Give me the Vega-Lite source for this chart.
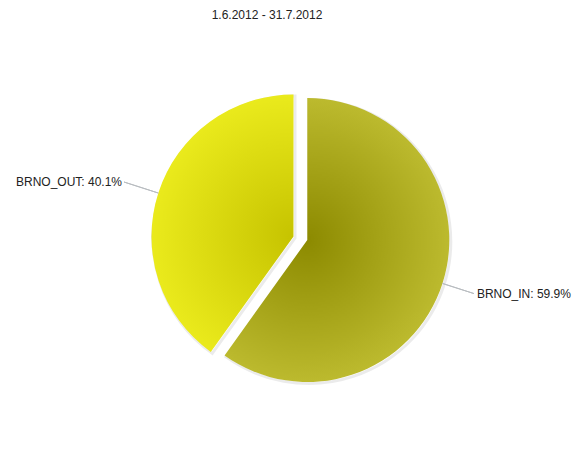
{
  "$schema": "https://vega.github.io/schema/vega-lite/v6.json",
  "autosize": {"type": "none"},
  "padding": {"left": 21, "top": 24, "right": 0, "bottom": 0},
  "width": 559,
  "height": 430,
  "background": "white",
  "title": {
    "text": "1.6.2012 - 31.7.2012",
    "font": "Liberation Sans",
    "fontSize": 12,
    "fontWeight": "normal",
    "color": "#222222",
    "anchor": "middle",
    "dx": -33.5,
    "dy": 12,
    "offset": 5,
    "baseline": "alphabetic"
  },
  "config": {"view": {"stroke": null}},
  "data": {
    "values": [
      {"cat": "BRNO_IN", "value": 59.9, "label": "BRNO_IN: 59.9%"},
      {"cat": "BRNO_OUT", "value": 40.1, "label": "BRNO_OUT: 40.1%"}
    ]
  },
  "transform": [
    {"stack": "value", "groupby": [], "sort": [{"field": "cat", "order": "ascending"}], "as": ["start", "end"]}
  ],
  "layer": [
    {
      "transform": [{"filter": "datum.cat == 'BRNO_IN'"}],
      "mark": {"type": "arc", "radius": 142, "xOffset": 8.3, "yOffset": 2.5, "filled": false, "stroke": "#000000", "strokeOpacity": 0.08, "strokeWidth": 3},
      "encoding": {
        "theta": {"field": "start", "type": "quantitative", "scale": {"domain": [0, 100]}},
        "theta2": {"field": "end"}
      }
    },
    {
      "transform": [{"filter": "datum.cat == 'BRNO_OUT'"}],
      "mark": {"type": "arc", "radius": 142, "xOffset": -5.5, "yOffset": -1, "filled": false, "stroke": "#000000", "strokeOpacity": 0.08, "strokeWidth": 3},
      "encoding": {
        "theta": {"field": "start", "type": "quantitative", "scale": {"domain": [0, 100]}},
        "theta2": {"field": "end"}
      }
    },
    {
      "transform": [{"filter": "datum.cat == 'BRNO_IN'"}],
      "mark": {
        "type": "arc", "radius": 142, "xOffset": 6.8, "yOffset": 1,
        "fill": {
          "gradient": "radial",
          "x1": 0.3955, "y1": 0.5, "r1": 0,
          "x2": 0.3955, "y2": 0.5, "r2": 0.5,
          "stops": [
            {"offset": 0, "color": "#8c8a00"},
            {"offset": 1, "color": "#bcba2e"}
          ]
        }
      },
      "encoding": {
        "theta": {"field": "start", "type": "quantitative", "scale": {"domain": [0, 100]}},
        "theta2": {"field": "end"}
      }
    },
    {
      "transform": [{"filter": "datum.cat == 'BRNO_OUT'"}],
      "mark": {
        "type": "arc", "radius": 142, "xOffset": -7, "yOffset": -2.5,
        "fill": {
          "gradient": "radial",
          "x1": 0.776, "y1": 0.5516, "r1": 0,
          "x2": 0.776, "y2": 0.5516, "r2": 0.5516,
          "stops": [
            {"offset": 0, "color": "#c6c300"},
            {"offset": 1, "color": "#eaea1c"}
          ]
        }
      },
      "encoding": {
        "theta": {"field": "start", "type": "quantitative", "scale": {"domain": [0, 100]}},
        "theta2": {"field": "end"}
      }
    },
    {
      "transform": [
        {"fold": ["start", "end"], "as": ["k", "v"]},
        {"aggregate": [{"op": "mean", "field": "v", "as": "mid"}], "groupby": ["cat", "label"]},
        {"filter": "datum.cat == 'BRNO_IN'"}
      ],
      "layer": [
        {
          "mark": {"type": "arc", "radius": 175, "radius2": 142, "xOffset": 6.8, "yOffset": 1, "filled": false, "stroke": "#b8bcc0", "strokeWidth": 1},
          "encoding": {
            "theta": {"field": "mid", "type": "quantitative", "stack": false, "scale": {"domain": [0, 100]}},
            "theta2": {"field": "mid"}
          }
        },
        {
          "mark": {"type": "text", "radius": 175, "xOffset": 6.8, "yOffset": 1, "dx": 3, "align": "left", "baseline": "middle", "font": "Liberation Sans", "fontSize": 12, "color": "#222222"},
          "encoding": {
            "theta": {"field": "mid", "type": "quantitative", "stack": false, "scale": {"domain": [0, 100]}},
            "text": {"field": "label"}
          }
        }
      ]
    },
    {
      "transform": [
        {"fold": ["start", "end"], "as": ["k", "v"]},
        {"aggregate": [{"op": "mean", "field": "v", "as": "mid"}], "groupby": ["cat", "label"]},
        {"filter": "datum.cat == 'BRNO_OUT'"}
      ],
      "layer": [
        {
          "mark": {"type": "arc", "radius": 178, "radius2": 142, "xOffset": -7, "yOffset": -2.5, "filled": false, "stroke": "#b8bcc0", "strokeWidth": 1},
          "encoding": {
            "theta": {"field": "mid", "type": "quantitative", "stack": false, "scale": {"domain": [0, 100]}},
            "theta2": {"field": "mid"}
          }
        },
        {
          "mark": {"type": "text", "radius": 178, "xOffset": -7, "yOffset": -2.5, "dx": -2, "align": "right", "baseline": "middle", "font": "Liberation Sans", "fontSize": 12, "color": "#222222"},
          "encoding": {
            "theta": {"field": "mid", "type": "quantitative", "stack": false, "scale": {"domain": [0, 100]}},
            "text": {"field": "label"}
          }
        }
      ]
    }
  ]
}
